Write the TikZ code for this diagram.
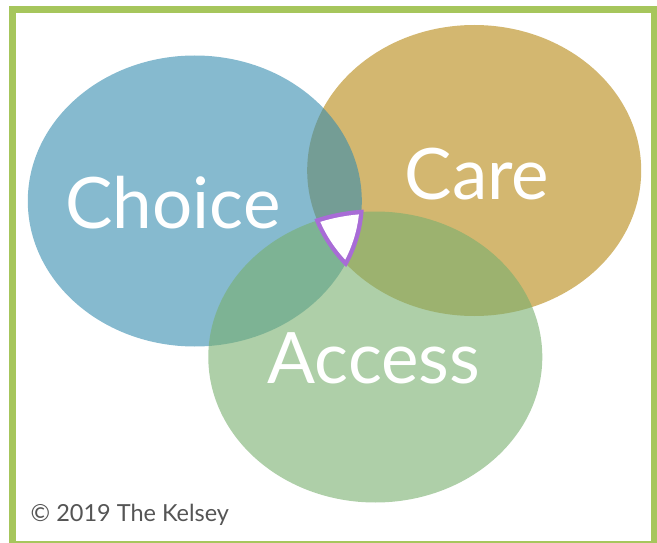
\documentclass[tikz,border=0pt]{standalone}
\usepackage{fontspec}
\setmainfont{Lato}
\definecolor{choiceblue}{RGB}{53,140,175}
\definecolor{caregold}{RGB}{182,135,17}
\definecolor{accessgreen}{RGB}{120,175,110}
\definecolor{framegreen}{RGB}{166,198,92}
\definecolor{hubpurple}{RGB}{168,108,214}
\definecolor{notegray}{RGB}{85,85,85}
\begin{document}
\begin{tikzpicture}[x=1pt, y=-1pt,
  lobe/.style={x radius=167pt, y radius=145.5pt},
  lobe out/.style={x radius=169.2pt, y radius=147.7pt},
  lobe in/.style={x radius=164.8pt, y radius=143.3pt},
  blob/.style={fill opacity=0.6},
  word/.style={text=white, anchor=base, font=\fontsize{71}{71}\selectfont}]
  \useasboundingbox (0,0) rectangle (657,543);
  \coordinate (choice) at (194.8,201);
  \coordinate (care) at (474.2,170.5);
  \coordinate (access) at (375.3,357);
  % circles, gold under blue under green
  \fill[blob, caregold] (care) ellipse [lobe];
  \fill[blob, choiceblue] (choice) ellipse [lobe];
  \fill[blob, accessgreen] (access) ellipse [lobe];
  % centre piece: purple rim, white inside
  \begin{scope}
    \clip (choice) ellipse [lobe out];
    \clip (care) ellipse [lobe out];
    \fill[hubpurple] (access) ellipse [lobe out];
  \end{scope}
  \begin{scope}
    \clip (choice) ellipse [lobe in];
    \clip (care) ellipse [lobe in];
    \fill[white] (access) ellipse [lobe in];
  \end{scope}
  \node[word] (choicetext) at (173,228) {Choice};
  \node[word] (caretext) at (477,200) {Care};
  \node[word] (accesstext) at (374,383.5) {Access};
  \node[anchor=base west, inner sep=0pt, text=notegray,
    font=\fontsize{23.5}{23.5}\selectfont] (note) at (30.5,521) {© 2019 The Kelsey};
  \draw[framegreen, line width=7pt] (12.5,10) rectangle (654.5,544);
\end{tikzpicture}
\end{document}
